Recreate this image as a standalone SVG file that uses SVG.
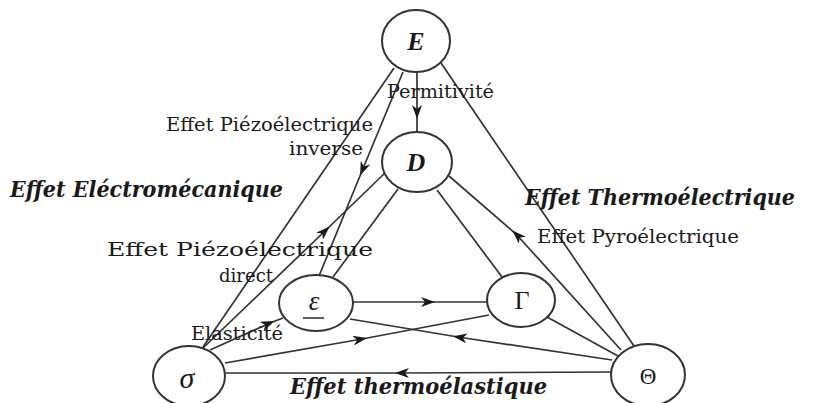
<svg xmlns="http://www.w3.org/2000/svg" width="813" height="403" viewBox="0 0 813 403">
<style>
.n{fill:#fff;stroke:#333;stroke-width:2}
.c{fill:none;stroke:#333;stroke-width:1.7}
.a{marker-mid:url(#ah)}
.t{font-family:"DejaVu Serif","Liberation Serif",serif;fill:#1a1a1a}
.lab{font-size:19px}
.ti{font-size:22px;font-weight:bold;font-style:italic}
.nl{text-anchor:middle;font-family:"Liberation Serif","Times New Roman",serif}
</style>
<defs>
<marker id="ah" viewBox="0 0 14 10" refX="9" refY="5" markerWidth="14" markerHeight="10" markerUnits="userSpaceOnUse" orient="auto">
<path d="M0,0 L14,5 L0,10 L4,5 Z" fill="#1a1a1a"/>
</marker>
</defs>
<rect width="813" height="403" fill="#fff"/>
<g id="connectors">
<path class="c" d="M394,68 L203,347"/>
<path class="c a" d="M403,72 L362,171 L319,276"/>
<path class="c a" d="M417,72 L417,114 L417,132"/>
<path class="c" d="M441,63 L634,346"/>
<path class="c a" d="M203,348 L326,230 L386,172"/>
<path class="c" d="M398,189 L333,277"/>
<path class="c" d="M437,190 L502,277"/>
<path class="c a" d="M621,350 L516,234 L449,176"/>
<path class="c" d="M547,317 L618,356"/>
<path class="c a" d="M353,302 L430,302 L487,302"/>
<path class="c a" d="M612,360 L458,337 L350,319"/>
<path class="c a" d="M225,363 L362,339 L489,315"/>
<path class="c a" d="M611,372 L400,373 L225,373"/>
<path class="c a" d="M210,350 L270,323 L283,318"/>
</g>
<g id="node-E"><ellipse class="n" cx="416" cy="41" rx="34" ry="31"/><text class="t nl" x="416" y="50" font-size="26" font-weight="bold" font-style="italic">E</text></g>
<g id="node-D"><ellipse class="n" cx="417" cy="162" rx="35" ry="30"/><text class="t nl" x="416" y="171" font-size="26" font-weight="bold" font-style="italic">D</text></g>
<g id="node-eps"><ellipse class="n" cx="316" cy="303" rx="37" ry="28"/><text class="t nl" x="314" y="310" font-size="27" font-style="italic">ε</text><line x1="303" y1="318" x2="324" y2="318" stroke="#333" stroke-width="1.6"/></g>
<g id="node-Gamma"><ellipse class="n" cx="521" cy="300" rx="34" ry="27"/><text class="t nl" x="522" y="309" font-size="26">Γ</text></g>
<g id="node-sigma"><ellipse class="n" cx="189" cy="376" rx="36" ry="30"/><text class="t nl" x="187" y="388" font-size="30" font-style="italic">σ</text></g>
<g id="node-Theta"><ellipse class="n" cx="648" cy="375" rx="37" ry="31"/><text class="t nl" x="648" y="384" font-size="23">Θ</text></g>
<g id="labels">
<text class="t lab" x="387" y="98" textLength="107" lengthAdjust="spacingAndGlyphs">Permitivité</text>
<text class="t lab" x="166" y="131" textLength="207" lengthAdjust="spacingAndGlyphs">Effet Piézoélectrique</text>
<text class="t lab" x="289" y="155" textLength="74" lengthAdjust="spacingAndGlyphs">inverse</text>
<text class="t ti" x="10" y="197" textLength="273" lengthAdjust="spacingAndGlyphs">Effet Eléctromécanique</text>
<text class="t lab" x="107" y="256" textLength="266" lengthAdjust="spacingAndGlyphs" font-size="20">Effet Piézoélectrique</text>
<text class="t lab" x="219" y="282" textLength="54" lengthAdjust="spacingAndGlyphs">direct</text>
<text class="t lab" x="191" y="340" textLength="92" lengthAdjust="spacingAndGlyphs">Elasticité</text>
<text class="t ti" x="290" y="394" textLength="257" lengthAdjust="spacingAndGlyphs">Effet thermoélastique</text>
<text class="t ti" x="525" y="205" textLength="270" lengthAdjust="spacingAndGlyphs" font-size="19">Effet Thermoélectrique</text>
<text class="t lab" x="537" y="243" textLength="202" lengthAdjust="spacingAndGlyphs">Effet Pyroélectrique</text>
</g>
</svg>
